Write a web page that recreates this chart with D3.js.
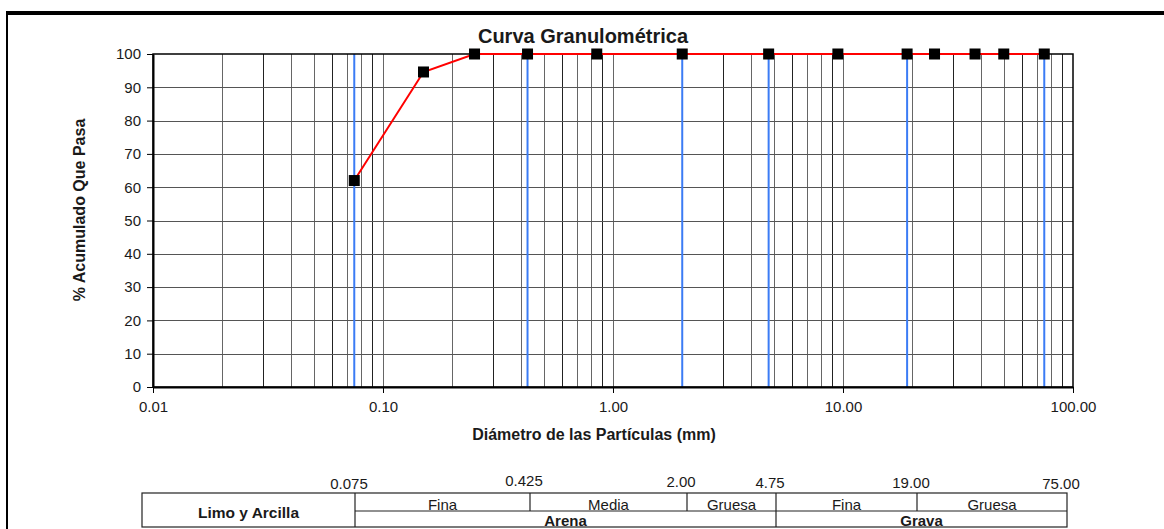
<!DOCTYPE html>
<html>
<head>
<meta charset="utf-8">
<script src="https://cdn.jsdelivr.net/npm/d3@7"></script>
<style>
  body { margin: 0; background: #fff; }
  text { font-family: "Liberation Sans", Arial, sans-serif; fill: #1a1a1a; }
</style>
</head>
<body>
<div id="chart"></div>
<script>
// sieve data
const sieveSizes = [0.075, 0.15, 0.25, 0.425, 0.85, 2.0, 4.75, 9.5, 19, 25, 37.5, 50, 75];
const percentPassing = [62, 94.6, 100, 100, 100, 100, 100, 100, 100, 100, 100, 100, 100];

// soil class boundaries (blue lines + table)
const boundarySizes = [0.075, 0.425, 2.0, 4.75, 19, 75];
const boundaryLabels = ["0.075", "0.425", "2.00", "4.75", "19.00", "75.00"];
const subClasses = ["Fina", "Media", "Gruesa", "Fina", "Gruesa"];
const mainClasses = [
  { name: "Arena", from: 0.075, to: 4.75 },
  { name: "Grava", from: 4.75, to: 75 }
];

const xTicks = [0.01, 0.1, 1, 10, 100];
const yTicks = [0, 10, 20, 30, 40, 50, 60, 70, 80, 90, 100];

const width = 1164, height = 529;
const svg = d3.select("#chart").append("svg")
  .attr("width", width)
  .attr("height", height);

//frame of the sheet
svg.append("rect").attr("x", 6).attr("y", 11).attr("width", width).attr("height", 4).attr("fill", "#000");
svg.append("rect").attr("x", 6).attr("y", 11).attr("width", 2).attr("height", height).attr("fill", "#000");

const x = d3.scaleLog().domain([0.01, 100]).range([153, 1073]);
const y = d3.scaleLinear().domain([0, 100]).range([387, 54]);
const crisp = v => Math.round(v) + 0.5;

//minor log grid
let minor = [];
[0.01, 0.1, 1, 10].forEach(d => { for (let k = 1; k <= 9; k++) minor.push(d * k); });

svg.append("g").selectAll("line")
  .data(minor.filter(d => d > 0.01))
  .join("line")
  .attr("x1", d => crisp(x(d))).attr("x2", d => crisp(x(d)))
  .attr("y1", y(0)).attr("y2", y(100))
  .attr("stroke", (d, i) => i % 3 == 1 ? "#222" : "#666")
  .attr("stroke-width", 1);

svg.append("g").selectAll("line")
  .data(yTicks.filter(d => d > 0 && d < 100))
  .join("line")
  .attr("x1", x(0.01)).attr("x2", x(100))
  .attr("y1", d => crisp(y(d))).attr("y2", d => crisp(y(d)))
  .attr("stroke", "#555")
  .attr("stroke-width", 1);

//blue class lines
svg.append("g").selectAll("line")
  .data(boundarySizes)
  .join("line")
  .attr("x1", d => x(d)).attr("x2", d => x(d))
  .attr("y1", y(0)).attr("y2", y(100))
  .attr("stroke", "#3b7cf5")
  .attr("stroke-width", 2);

//plot frame
svg.append("rect")
  .attr("x", x(0.01)).attr("y", y(100))
  .attr("width", x(100) - x(0.01)).attr("height", y(0) - y(100))
  .attr("fill", "none").attr("stroke", "#000").attr("stroke-width", 1.5);

//axes
const xAxis = svg.append("g")
  .attr("transform", `translate(0,${y(0)})`)
  .call(d3.axisBottom(x).tickValues(xTicks).tickFormat(d3.format(".2f")).tickSize(6).tickSizeOuter(0));
xAxis.select(".domain").attr("stroke", "#000").attr("stroke-width", 2);
xAxis.selectAll(".tick line").attr("stroke", "#000");
xAxis.selectAll("text").attr("font-size", 15).attr("y", 25).attr("dy", 0);

const yAxis = svg.append("g")
  .attr("transform", `translate(${x(0.01)},0)`)
  .call(d3.axisLeft(y).tickValues(yTicks).tickSize(6).tickSizeOuter(0));
yAxis.select(".domain").attr("stroke", "#000").attr("stroke-width", 2);
yAxis.selectAll(".tick line").attr("stroke", "#000");
yAxis.selectAll("text").attr("font-size", 15).attr("x", -12);

//curve
const line = d3.line().x(d => x(d[0])).y(d => y(d[1]));
const pts = sieveSizes.map((s, i) => [s, percentPassing[i]]);
svg.append("path")
  .datum(pts)
  .attr("d", line)
  .attr("fill", "none")
  .attr("stroke", "#ff0000")
  .attr("stroke-width", 2);

svg.append("g").selectAll("rect")
  .data(pts)
  .join("rect")
  .attr("x", d => x(d[0]) - 5.5)
  .attr("y", d => y(d[1]) - 5.5)
  .attr("width", 11).attr("height", 11)
  .attr("fill", "#000");

//titles
svg.append("text")
  .attr("x", 583).attr("y", 43)
  .attr("text-anchor", "middle")
  .attr("font-size", 20).attr("font-weight", "bold")
  .text("Curva Granulométrica");

svg.append("text")
  .attr("transform", "translate(85,210) rotate(-90)")
  .attr("text-anchor", "middle")
  .attr("font-size", 16).attr("font-weight", "bold")
  .text("% Acumulado Que Pasa");

svg.append("text")
  .attr("x", 594).attr("y", 440)
  .attr("text-anchor", "middle")
  .attr("font-size", 16).attr("font-weight", "bold")
  .text("Diámetro de las Partículas (mm)");

//classification table (own column layout, like the sheet cells)
const tx = d3.scaleLog()
  .domain([0.0125].concat(boundarySizes))
  .range([142, 355, 530, 687, 776, 917, 1067]);
const rowTop = 493, rowMid = 511, rowBot = 527;

const table = svg.append("g").attr("stroke", "#222").attr("stroke-width", 1.2);
table.append("rect")
  .attr("x", tx(0.0125)).attr("y", rowTop)
  .attr("width", tx(75) - tx(0.0125)).attr("height", rowBot - rowTop)
  .attr("fill", "none");
table.append("line")
  .attr("x1", tx(0.075)).attr("x2", tx(75))
  .attr("y1", rowMid).attr("y2", rowMid);
table.selectAll(".full")
  .data([0.075, 4.75])
  .join("line")
  .attr("x1", d => tx(d)).attr("x2", d => tx(d))
  .attr("y1", rowTop).attr("y2", rowBot);
table.selectAll(".half")
  .data([0.425, 2.0, 19])
  .join("line")
  .attr("x1", d => tx(d)).attr("x2", d => tx(d))
  .attr("y1", rowTop).attr("y2", rowMid);

svg.append("g").selectAll("text")
  .data(boundarySizes)
  .join("text")
  .attr("x", d => tx(d) - 6)
  .attr("y", (d, i) => [489, 486, 487, 488, 488, 489][i])
  .attr("text-anchor", "middle")
  .attr("font-size", 15)
  .text((d, i) => boundaryLabels[i]);

svg.append("g").selectAll("text")
  .data(subClasses)
  .join("text")
  .attr("x", (d, i) => (tx(boundarySizes[i]) + tx(boundarySizes[i + 1])) / 2)
  .attr("y", rowMid - 1)
  .attr("text-anchor", "middle")
  .attr("font-size", 15)
  .text(d => d);

svg.append("g").selectAll("text")
  .data(mainClasses)
  .join("text")
  .attr("x", d => (tx(d.from) + tx(d.to)) / 2)
  .attr("y", rowBot - 1)
  .attr("text-anchor", "middle")
  .attr("font-size", 15).attr("font-weight", "bold")
  .text(d => d.name);

svg.append("text")
  .attr("x", (tx(0.0125) + tx(0.075)) / 2).attr("y", 518)
  .attr("text-anchor", "middle")
  .attr("font-size", 15.5).attr("font-weight", "bold")
  .text("Limo y Arcilla");
</script>
</body>
</html>
